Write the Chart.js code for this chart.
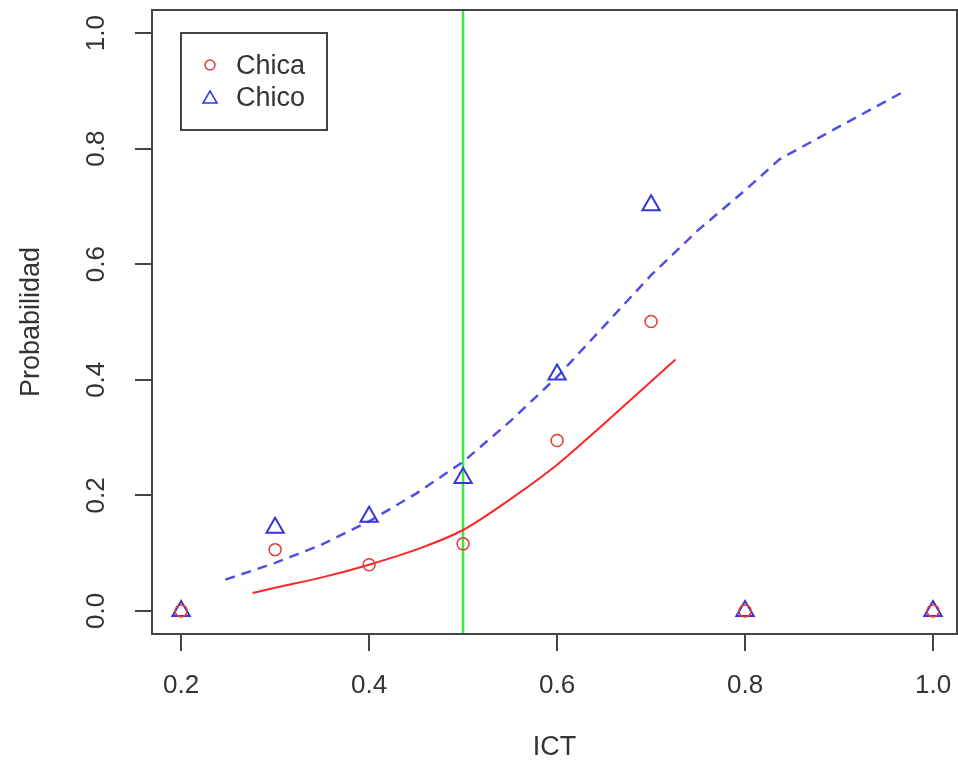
<!DOCTYPE html>
<html>
<head>
<meta charset="utf-8">
<script src="https://cdn.jsdelivr.net/npm/chart.js@4/dist/chart.umd.min.js"></script>
<style>
  body { margin: 0; background: #fff; overflow: hidden; }
  #wrap { width: 958px; height: 761px; }
</style>
</head>
<body>
<div id="wrap"><canvas id="chart" width="958" height="761"></canvas></div>
<script>
// Observed proportions per ICT value
const ictValues = [0.2, 0.3, 0.4, 0.5, 0.6, 0.7, 0.8, 1.0];
const chicaObs = [0, 0.106, 0.08, 0.116, 0.295, 0.501, 0, 0];
const chicoObs = [0, 0.144, 0.163, 0.23, 0.409, 0.702, 0, 0];

// Fitted curves
const chicaFitX = [0.276, 0.3, 0.35, 0.4, 0.45, 0.5, 0.55, 0.6, 0.65, 0.7, 0.726];
const chicaFitY = [0.031, 0.04, 0.058, 0.08, 0.106, 0.14, 0.193, 0.253, 0.324, 0.397, 0.435];
const chicoFitX = [0.247, 0.3, 0.35, 0.4, 0.45, 0.5, 0.55, 0.6, 0.65, 0.7, 0.75, 0.8, 0.837, 0.9, 0.968];
const chicoFitY = [0.054, 0.083, 0.115, 0.155, 0.203, 0.258, 0.328, 0.405, 0.493, 0.581, 0.659, 0.728, 0.782, 0.838, 0.898];

// Cut-off line
const cutoffX = 0.5;

// Axes
const xMin = 0.169, xMax = 1.0255;
const yMin = -0.04, yMax = 1.04;
const xTicks = [0.2, 0.4, 0.6, 0.8, 1.0];
const yTicks = [0.0, 0.2, 0.4, 0.6, 0.8, 1.0];

const textColor = '#333';
const axisColor = '#444';
const fontFamily = '"Liberation Sans", Arial, sans-serif';
const red = '#e23a3a';
const blue = '#3535de';

const toPoints = (xs, ys) => xs.map((x, i) => ({ x: x, y: ys[i] }));

// plot box + legend in the top-left corner
const boxPlugin = {
  id: 'boxAndLegend',
  afterDraw(chart) {
    const { ctx, chartArea: a } = chart;
    ctx.save();
    ctx.strokeStyle = axisColor;
    ctx.lineWidth = 2;
    ctx.strokeRect(a.left, a.top, a.right - a.left, a.bottom - a.top);

    // legend
    const lx = 181, ly = 33, lw = 146, lh = 97;
    ctx.fillStyle = '#fff';
    ctx.fillRect(lx, ly, lw, lh);
    ctx.strokeRect(lx, ly, lw, lh);

    const entries = chart.data.datasets.filter((d) => d.inLegend);
    entries.forEach((d, i) => {
      const cy = 66 + i * 32;
      ctx.strokeStyle = d.borderColor;
      ctx.lineWidth = 1.5;
      ctx.beginPath();
      if (d.pointStyle === 'triangle') {
        ctx.moveTo(210, cy - 7);
        ctx.lineTo(217, cy + 5);
        ctx.lineTo(203, cy + 5);
        ctx.closePath();
      } else {
        ctx.arc(210, cy - 1, 5, 0, Math.PI * 2);
      }
      ctx.stroke();
      ctx.fillStyle = textColor;
      ctx.font = '27px ' + fontFamily;
      ctx.textBaseline = 'middle';
      ctx.textAlign = 'left';
      ctx.fillText(d.label, 236, cy + 1);
    });
    ctx.restore();
  },
};

new Chart(document.getElementById('chart'), {
  type: 'scatter',
  data: {
    datasets: [
      {
        label: 'Chica',
        inLegend: true,
        data: toPoints(ictValues, chicaObs),
        pointStyle: 'circle',
        pointRadius: 6,
        borderColor: red,
        backgroundColor: 'rgba(0,0,0,0)',
        borderWidth: 1.5,
        order: 0,
      },
      {
        label: 'Chico',
        inLegend: true,
        data: toPoints(ictValues, chicoObs),
        pointStyle: 'triangle',
        pointRadius: 10,
        borderColor: blue,
        backgroundColor: 'rgba(0,0,0,0)',
        borderWidth: 2,
        order: 0,
      },
      {
        label: 'Ajuste Chica',
        data: toPoints(chicaFitX, chicaFitY),
        showLine: true,
        pointRadius: 0,
        borderColor: '#ff2525',
        borderWidth: 2,
        cubicInterpolationMode: 'monotone',
        order: 1,
      },
      {
        label: 'Ajuste Chico',
        data: toPoints(chicoFitX, chicoFitY),
        showLine: true,
        pointRadius: 0,
        borderColor: '#4f4fe6',
        borderWidth: 2.5,
        borderDash: [10, 7],
        tension: 0,
        order: 1,
      },
      {
        label: 'Corte',
        data: [{ x: cutoffX, y: yMin }, { x: cutoffX, y: yMax }],
        showLine: true,
        pointRadius: 0,
        borderColor: '#3ee83e',
        borderWidth: 2.5,
        order: 2,
      },
    ],
  },
  options: {
    responsive: false,
    animation: false,
    devicePixelRatio: 1,
    layout: { autoPadding: false, padding: { top: 10, right: 1, left: 0, bottom: 0 } },
    plugins: {
      legend: { display: false },
      tooltip: { enabled: false },
    },
    scales: {
      x: {
        type: 'linear',
        min: xMin,
        max: xMax,
        afterBuildTicks: (s) => { s.ticks = xTicks.map((v) => ({ value: v })); },
        afterFit: (s) => {
          s.height = 127;
          s.paddingLeft = 0;
          s.paddingRight = 0;
        },
        grid: { drawOnChartArea: false, drawTicks: true, tickLength: 17, color: axisColor, lineWidth: 2 },
        border: { display: false },
        ticks: {
          autoSkip: false,
          padding: 19,
          color: textColor,
          font: { size: 26, family: fontFamily },
          callback: (v) => Number(v).toFixed(1),
        },
        title: {
          display: true,
          text: 'ICT',
          color: textColor,
          font: { size: 27, family: fontFamily, lineHeight: 1 },
          padding: { top: 0, bottom: 0 },
        },
      },
      y: {
        type: 'linear',
        min: yMin,
        max: yMax,
        afterBuildTicks: (s) => { s.ticks = yTicks.map((v) => ({ value: v })); },
        afterFit: (s) => {
          s.width = 152;
          s.paddingTop = 0;
          s.paddingBottom = 0;
        },
        grid: { drawOnChartArea: false, drawTicks: true, tickLength: 17, color: axisColor, lineWidth: 2 },
        border: { display: false },
        ticks: {
          autoSkip: false,
          minRotation: 90,
          maxRotation: 90,
          crossAlign: 'center',
          padding: 20,
          color: textColor,
          font: { size: 26, family: fontFamily },
          callback: (v) => Number(v).toFixed(1),
        },
        title: {
          display: true,
          text: 'Probabilidad',
          color: textColor,
          font: { size: 27, family: fontFamily, lineHeight: 1 },
          padding: { top: 18, bottom: 0 },
        },
      },
    },
  },
  plugins: [boxPlugin],
});
</script>
</body>
</html>
